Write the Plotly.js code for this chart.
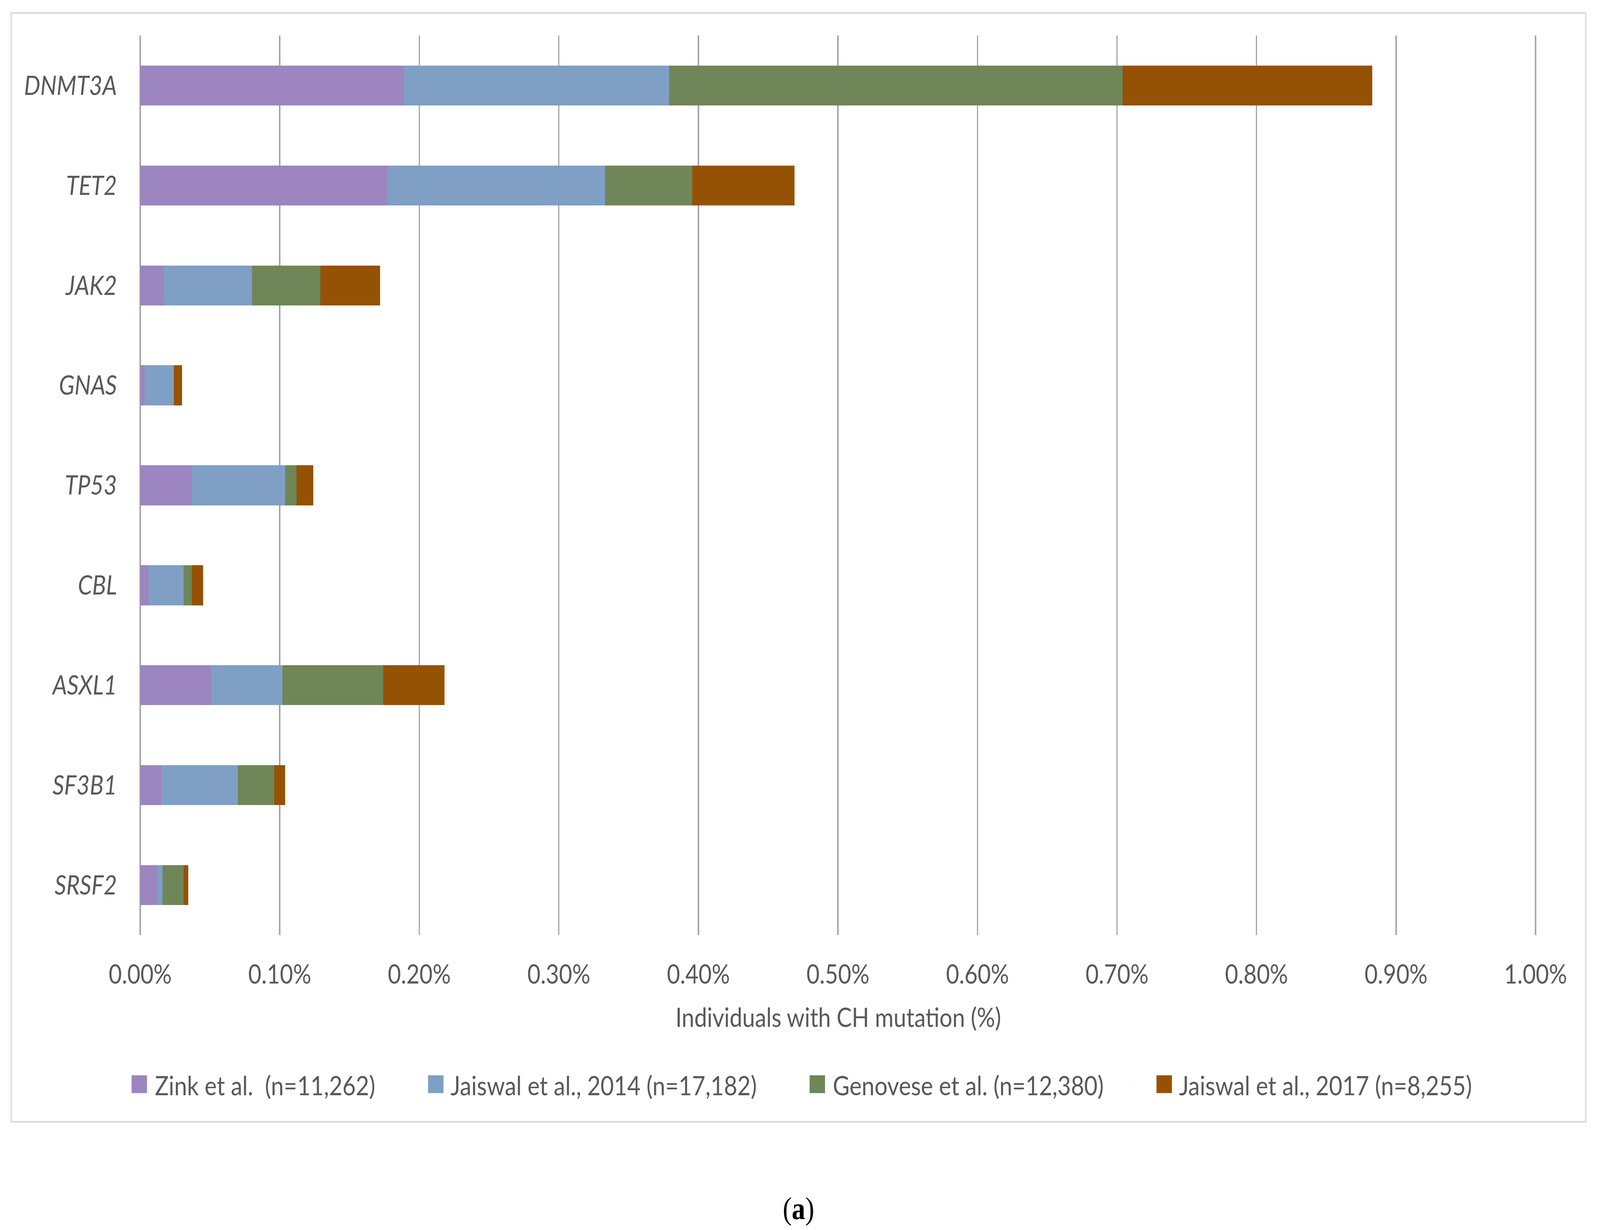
<!DOCTYPE html>
<html>
<head>
<meta charset="utf-8">
<script src="https://cdn.plot.ly/plotly-3.0.1.min.js"></script>
<style>html,body{margin:0;padding:0;background:#fff;overflow:hidden;}#chart{width:4724px;height:3149px;transform-origin:0 0;}</style>
</head>
<body>
<div id="chart"></div>
<script>
// ---- data (percent of individuals) ----
var genes = ['DNMT3A', 'TET2', 'JAK2', 'GNAS', 'TP53', 'CBL', 'ASXL1', 'SF3B1', 'SRSF2'];
var zink2017 = [0.189, 0.177, 0.017, 0.003, 0.037, 0.006, 0.051, 0.015, 0.012];
var jaiswal2014 = [0.190, 0.156, 0.063, 0.021, 0.067, 0.025, 0.051, 0.055, 0.004];
var genovese2014 = [0.325, 0.0625, 0.049, 0.000, 0.008, 0.006, 0.072, 0.026, 0.015];
var jaiswal2017 = [0.179, 0.0735, 0.043, 0.006, 0.012, 0.008, 0.044, 0.008, 0.0035];
var seriesNames = ['Zink et al.\u00a0 (n=11,262)', 'Jaiswal et al., 2014 (n=17,182)', 'Genovese et al. (n=12,380)', 'Jaiswal et al., 2017 (n=8,255)'];
var seriesColors = ['#9C85C0', '#7F9FC4', '#6F8658', '#955205'];
var xTickVals = [0, 0.1, 0.2, 0.3, 0.4, 0.5, 0.6, 0.7, 0.8, 0.9, 1.0];
var xTickText = xTickVals.map(function (v) { return v.toFixed(2) + '%'; });
var xTitle = 'Individuals with CH mutation (%)';
var panelLabel = '(<b>a</b>)';

var DW = 4724, DH = 3149;
var FONT = 'Lato, "Open Sans", sans-serif';
var TXT = '#595959';
var seriesValues = [zink2017, jaiswal2014, genovese2014, jaiswal2017];

var traces = [];
seriesValues.forEach(function (vals, i) {
  traces.push({
    type: 'bar', orientation: 'h',
    x: vals, y: genes,
    name: seriesNames[i],
    marker: {color: seriesColors[i], line: {width: 0}},
    showlegend: false, hoverinfo: 'x+y+name'
  });
});
// legend entries: square swatch drawn as a glyph so it can match the reference size
seriesValues.forEach(function (vals, i) {
  traces.push({
    type: 'scatter', mode: 'markers',
    x: [null], y: [null],
    marker: {size: 1, opacity: 0, color: seriesColors[i]},
    name: '<span style="color:' + seriesColors[i] + ';font-size:94px">\u25A0</span> ' + seriesNames[i],
    showlegend: true, hoverinfo: 'skip'
  });
});

var L = 414, R = 4536, T = 91, B = 2394;
function px2x(p) { return (p - L) / (R - L); }
function px2y(p) { return (B - p) / (B - T); }

var layout = {
  width: DW, height: DH,
  margin: {l: L, r: DW - R, t: T, b: DH - B, pad: 0},
  paper_bgcolor: '#ffffff', plot_bgcolor: '#ffffff',
  barmode: 'stack', bargap: 0.6,
  font: {family: FONT, color: TXT, size: 66},
  xaxis: {
    range: [0, 1.0005],
    tickmode: 'array', tickvals: xTickVals, ticktext: xTickText,
    showgrid: true, gridcolor: '#A6A6A6', gridwidth: 4,
    zeroline: true, zerolinecolor: '#A6A6A6', zerolinewidth: 4,
    showline: false,
    ticks: 'outside', ticklen: 43, tickwidth: 1, tickcolor: 'rgba(0,0,0,0)',
    tickfont: {family: FONT, size: 67, color: TXT},
    title: {text: xTitle, font: {family: FONT, size: 67, color: TXT}, standoff: 50},
    fixedrange: true
  },
  yaxis: {
    type: 'category',
    autorange: 'reversed',
    showgrid: false, zeroline: false, showline: false,
    ticks: 'outside', ticklen: 54, tickwidth: 1, tickcolor: 'rgba(0,0,0,0)',
    tickfont: {family: FONT, size: 68, color: TXT, style: 'italic'},
    fixedrange: true
  },
  legend: {
    orientation: 'h',
    traceorder: 'normal',
    x: px2x(2295), xanchor: 'center',
    y: px2y(2778), yanchor: 'middle',
    font: {family: FONT, size: 68, color: TXT},
    itemwidth: 135,
    bgcolor: 'rgba(0,0,0,0)',
    itemclick: false, itemdoubleclick: false
  },
  shapes: [{
    type: 'rect', xref: 'paper', yref: 'paper',
    x0: px2x(33), x1: px2x(4682), y0: px2y(2872), y1: px2y(33),
    line: {color: '#D9D9D9', width: 4}, fillcolor: 'rgba(0,0,0,0)', layer: 'below'
  }],
  annotations: [{
    xref: 'paper', yref: 'paper',
    x: px2x(2357), y: px2y(3094),
    xanchor: 'center', yanchor: 'middle',
    text: panelLabel, showarrow: false,
    font: {family: '"Liberation Serif", "DejaVu Serif", serif', size: 80, color: '#000000'}
  }]
};

var gd = document.getElementById('chart');
Plotly.newPlot(gd, traces, layout, {displayModeBar: false, staticPlot: true}).then(function () {
  // the window may be smaller than the design size; fit the drawing to it
  var VW = window.innerWidth || DW, VH = window.innerHeight || DH;
  var sx = Math.min(1, VW / DW), sy = Math.min(1, VH / DH);
  if (sx < 1 || sy < 1) gd.style.transform = 'scale(' + sx + ',' + sy + ')';
});
</script>
</body>
</html>
